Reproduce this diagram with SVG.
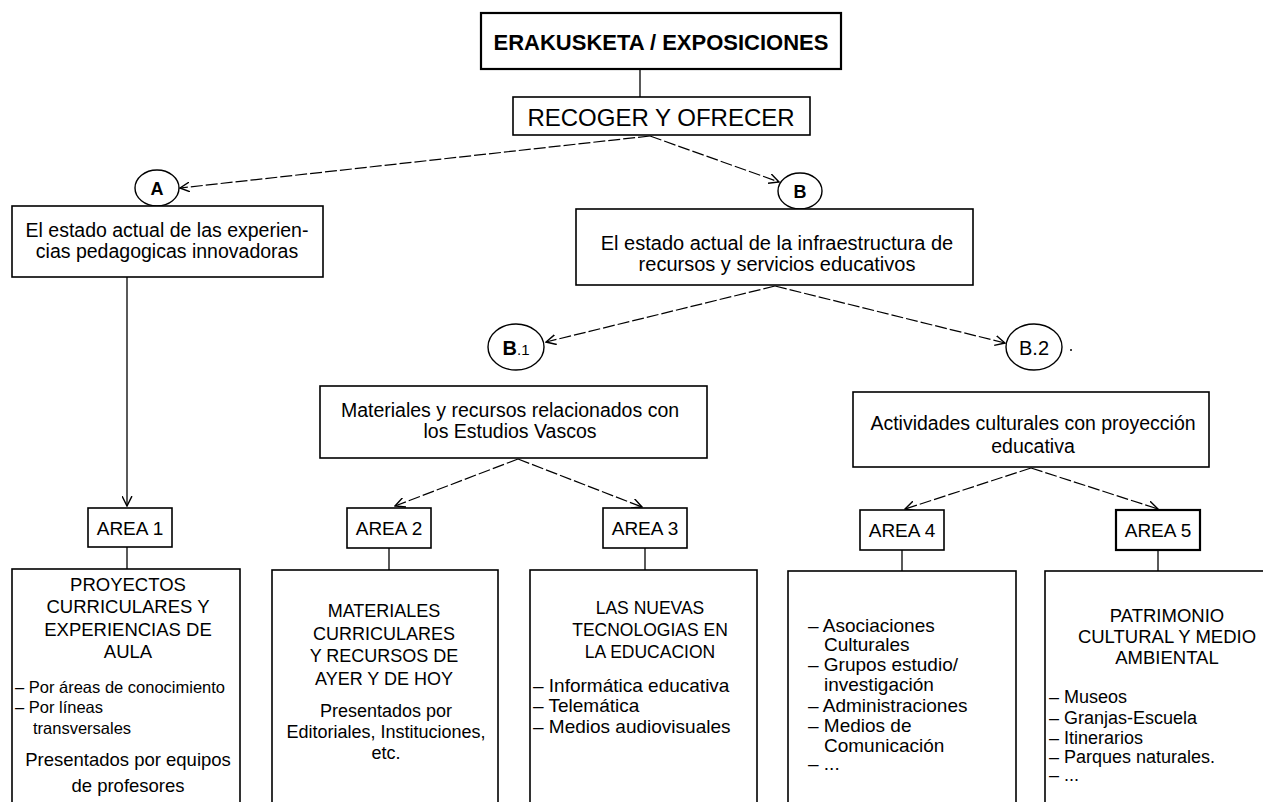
<svg xmlns="http://www.w3.org/2000/svg" width="1263" height="802" viewBox="0 0 1263 802">
<defs>
<style>
text{font-family:"Liberation Sans",Arial,Helvetica,sans-serif;fill:#000}
.box{fill:#fff;stroke:#000;stroke-width:1.6}
.c{text-anchor:middle}
.t20{font-size:19.5px}
.t18{font-size:18.5px}
.ar{font-size:19px;text-anchor:middle}
.ln{fill:none;stroke:#000;stroke-width:1.3}
.dl{fill:none;stroke:#000;stroke-width:1.2;stroke-dasharray:12 3}
</style>
<marker id="arr" viewBox="0 0 10 10" refX="9" refY="5" markerWidth="11" markerHeight="11" markerUnits="userSpaceOnUse" orient="auto">
<path d="M0,0.5 L9,5 L0,9.5" fill="none" stroke="#000" stroke-width="1.3"/>
</marker>
</defs>
<rect width="1263" height="802" fill="#fff"/>

<g id="connectors">
<line class="ln" x1="640" y1="69" x2="640" y2="97"/>
<line class="dl" x1="650" y1="136" x2="180" y2="188" marker-end="url(#arr)"/>
<line class="dl" x1="650" y1="136" x2="779" y2="182" marker-end="url(#arr)"/>
<line class="ln" x1="127" y1="277" x2="127" y2="506" marker-end="url(#arr)"/>
<line class="dl" x1="775" y1="286" x2="546" y2="342" marker-end="url(#arr)"/>
<line class="dl" x1="775" y1="286" x2="1005" y2="343" marker-end="url(#arr)"/>
<line class="dl" x1="518" y1="459" x2="395" y2="506" marker-end="url(#arr)"/>
<line class="dl" x1="518" y1="459" x2="642" y2="507" marker-end="url(#arr)"/>
<line class="dl" x1="1031" y1="468" x2="905" y2="509" marker-end="url(#arr)"/>
<line class="dl" x1="1031" y1="468" x2="1158" y2="509" marker-end="url(#arr)"/>
<line class="ln" x1="127" y1="547" x2="127" y2="569"/>
<line class="ln" x1="389" y1="548" x2="389" y2="570"/>
<line class="ln" x1="645" y1="548" x2="645" y2="570"/>
<line class="ln" x1="902" y1="550" x2="902" y2="571"/>
<line class="ln" x1="1158" y1="550" x2="1158" y2="571"/>
</g>

<g id="title">
<rect class="box" x="481" y="13" width="360" height="56" style="stroke-width:2.2"/>
<text x="661" y="50" class="c" style="font-size:22px;font-weight:bold">ERAKUSKETA / EXPOSICIONES</text>
</g>

<g id="recoger">
<rect class="box" x="513" y="97" width="297" height="38"/>
<text x="661" y="126" class="c" style="font-size:24px">RECOGER Y OFRECER</text>
</g>

<g id="circleA">
<ellipse cx="157" cy="188" rx="22" ry="18" fill="#fff" stroke="#000" stroke-width="1.4"/>
<text x="157" y="195" class="c" style="font-size:18px;font-weight:bold">A</text>
</g>

<g id="circleB">
<ellipse cx="800" cy="191" rx="22" ry="18" fill="#fff" stroke="#000" stroke-width="1.4"/>
<text x="800" y="198" class="c" style="font-size:18px;font-weight:bold">B</text>
</g>

<g id="boxA">
<rect class="box" x="12" y="206" width="311" height="71"/>
<text x="167" y="237" class="c t20">El estado actual de las experien-</text>
<text x="167" y="258" class="c t20">cias pedagogicas innovadoras</text>
</g>

<g id="boxB">
<rect class="box" x="576" y="209" width="397" height="76"/>
<text x="777" y="250" class="c" style="font-size:20px">El estado actual de la infraestructura de</text>
<text x="777" y="271" class="c" style="font-size:20px">recursos y servicios educativos</text>
</g>

<g id="circleB1">
<ellipse cx="516" cy="347" rx="28" ry="23" fill="#fff" stroke="#000" stroke-width="1.4"/>
<text x="516" y="355" class="c" style="font-size:20px;font-weight:bold">B<tspan style="font-size:15px;font-weight:normal">.1</tspan></text>
</g>

<g id="circleB2">
<ellipse cx="1034" cy="347" rx="28" ry="23" fill="#fff" stroke="#000" stroke-width="1.4"/>
<text x="1034" y="355" class="c" style="font-size:20px">B.2</text>
<circle cx="1071" cy="350" r="1" fill="#000"/>
</g>

<g id="boxB1">
<rect class="box" x="320" y="386" width="387" height="72"/>
<text x="510" y="417" class="c t20">Materiales y recursos relacionados con</text>
<text x="510" y="438" class="c t20">los Estudios Vascos</text>
</g>

<g id="boxB2">
<rect class="box" x="853" y="392" width="356" height="75"/>
<text x="1033" y="430" class="c t20">Actividades culturales con proyección</text>
<text x="1033" y="453" class="c t20">educativa</text>
</g>

<g id="area1">
<rect class="box" x="88" y="508" width="84" height="39"/>
<text x="130" y="535" class="ar">AREA 1</text>
</g>
<g id="area2">
<rect class="box" x="347" y="508" width="84" height="40"/>
<text x="389" y="535" class="ar">AREA 2</text>
</g>
<g id="area3">
<rect class="box" x="603" y="508" width="84" height="40"/>
<text x="645" y="535" class="ar">AREA 3</text>
</g>
<g id="area4">
<rect class="box" x="860" y="510" width="84" height="40"/>
<text x="902" y="537" class="ar">AREA 4</text>
</g>
<g id="area5">
<rect class="box" x="1116" y="510" width="84" height="40" style="stroke-width:2.2"/>
<text x="1158" y="537" class="ar">AREA 5</text>
</g>

<g id="box1">
<rect class="box" x="12" y="569" width="228" height="245"/>
<text x="128" y="591" class="c t18">PROYECTOS</text>
<text x="128" y="613" class="c t18">CURRICULARES Y</text>
<text x="128" y="636" class="c t18">EXPERIENCIAS DE</text>
<text x="128" y="658" class="c t18">AULA</text>
<text x="15" y="693" style="font-size:16.5px">– Por áreas de conocimiento</text>
<text x="15" y="713" style="font-size:16.5px">– Por líneas</text>
<text x="33" y="734" style="font-size:16.5px">transversales</text>
<text x="128" y="766" class="c t18">Presentados por equipos</text>
<text x="128" y="792" class="c t18">de profesores</text>
</g>

<g id="box2">
<rect class="box" x="272" y="570" width="226" height="245"/>
<text x="384" y="617" class="c" style="font-size:18px">MATERIALES</text>
<text x="384" y="640" class="c" style="font-size:18px">CURRICULARES</text>
<text x="384" y="662" class="c" style="font-size:18px">Y RECURSOS DE</text>
<text x="384" y="685" class="c" style="font-size:18px">AYER Y DE HOY</text>
<text x="386" y="717" class="c" style="font-size:18px">Presentados por</text>
<text x="386" y="738" class="c" style="font-size:18px">Editoriales, Instituciones,</text>
<text x="386" y="759" class="c" style="font-size:18px">etc.</text>
</g>

<g id="box3">
<rect class="box" x="530" y="570" width="227" height="245"/>
<text x="650" y="614" class="c" style="font-size:17.5px">LAS NUEVAS</text>
<text x="650" y="636" class="c" style="font-size:17.5px">TECNOLOGIAS EN</text>
<text x="650" y="658" class="c" style="font-size:17.5px">LA EDUCACION</text>
<text x="533" y="692" style="font-size:19px">– Informática educativa</text>
<text x="533" y="712" style="font-size:19px">– Telemática</text>
<text x="533" y="733" style="font-size:19px">– Medios audiovisuales</text>
</g>

<g id="box4">
<rect class="box" x="788" y="571" width="228" height="245"/>
<text x="808" y="632" style="font-size:19px">– Asociaciones</text>
<text x="824" y="651" style="font-size:19px">Culturales</text>
<text x="808" y="671" style="font-size:19px">– Grupos estudio/</text>
<text x="824" y="691" style="font-size:19px">investigación</text>
<text x="808" y="712" style="font-size:19px">– Administraciones</text>
<text x="808" y="732" style="font-size:19px">– Medios de</text>
<text x="824" y="752" style="font-size:19px">Comunicación</text>
<text x="808" y="770" style="font-size:19px">– ...</text>
</g>

<g id="box5">
<rect class="box" x="1045" y="571" width="240" height="245"/>
<text x="1167" y="622" class="c t18">PATRIMONIO</text>
<text x="1167" y="643" class="c t18">CULTURAL Y MEDIO</text>
<text x="1167" y="664" class="c t18">AMBIENTAL</text>
<text x="1049" y="703" style="font-size:18px">– Museos</text>
<text x="1049" y="724" style="font-size:18px">– Granjas-Escuela</text>
<text x="1049" y="744" style="font-size:18px">– Itinerarios</text>
<text x="1049" y="763" style="font-size:18px">– Parques naturales.</text>
<text x="1049" y="781" style="font-size:18px">– ...</text>
</g>
</svg>
